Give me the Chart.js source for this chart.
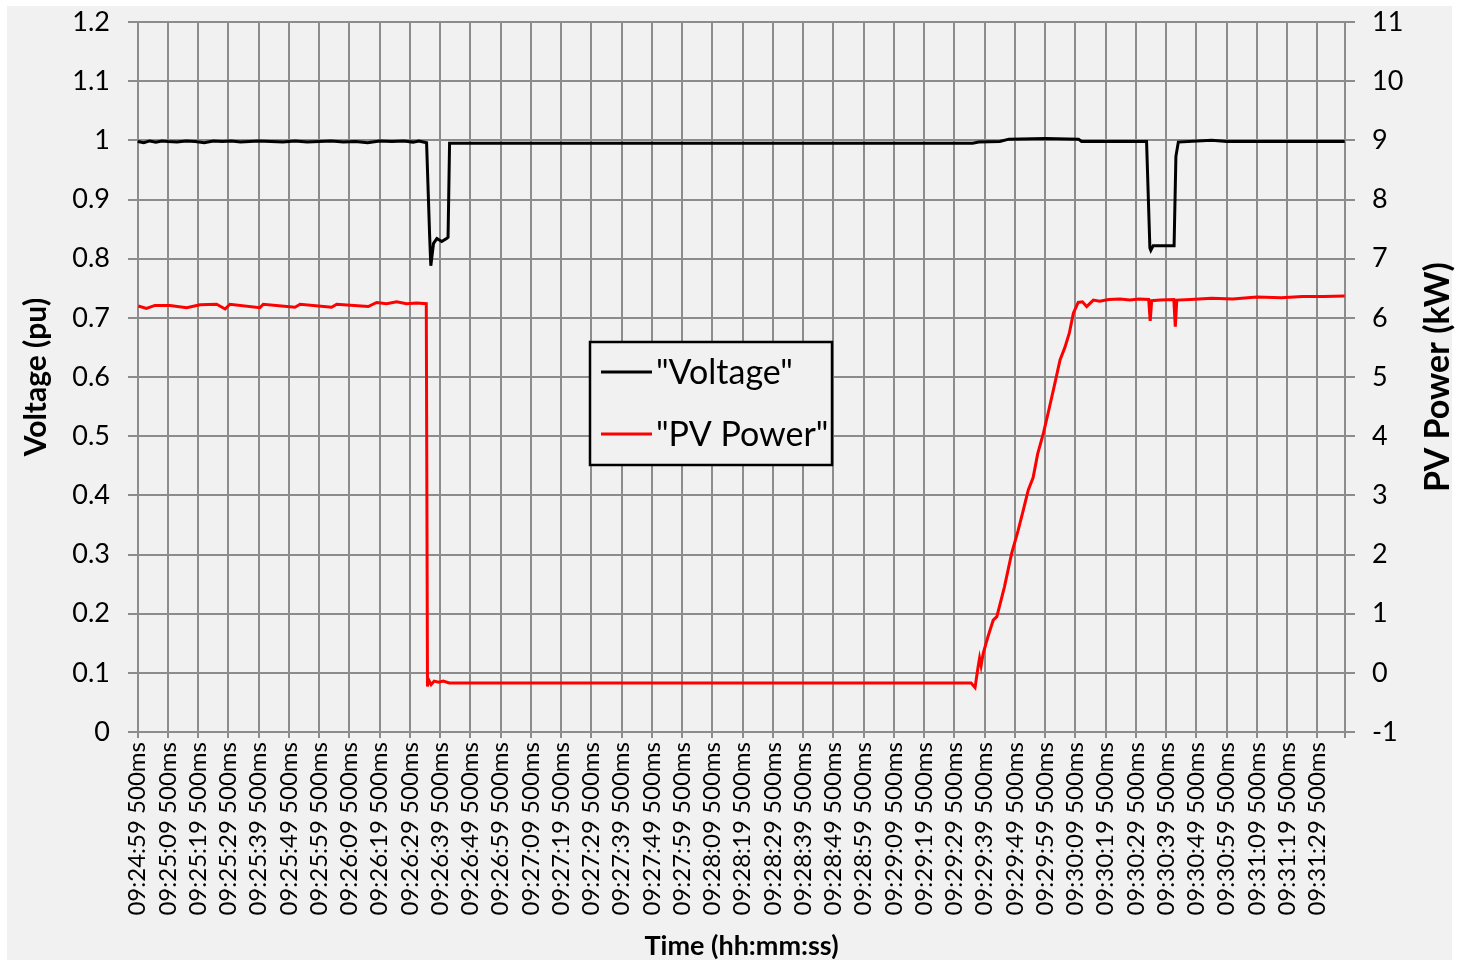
<!DOCTYPE html>
<html>
<head>
<meta charset="utf-8">
<script src="https://cdn.jsdelivr.net/npm/chart.js@4.4.1/dist/chart.umd.min.js"></script>
<style>
    html, body { margin: 0; padding: 0; background: #fff; }
    canvas { display: block; }
</style>
</head>
<body>
<canvas id="chartVoltage" width="1458" height="963"></canvas>
<script>
// tick labels (one every 10 s, starting 09:24:59.5)
const timeLabels = [
    '09:24:59 500ms', '09:25:09 500ms', '09:25:19 500ms', '09:25:29 500ms', '09:25:39 500ms',
    '09:25:49 500ms', '09:25:59 500ms', '09:26:09 500ms', '09:26:19 500ms', '09:26:29 500ms',
    '09:26:39 500ms', '09:26:49 500ms', '09:26:59 500ms', '09:27:09 500ms', '09:27:19 500ms',
    '09:27:29 500ms', '09:27:39 500ms', '09:27:49 500ms', '09:27:59 500ms', '09:28:09 500ms',
    '09:28:19 500ms', '09:28:29 500ms', '09:28:39 500ms', '09:28:49 500ms', '09:28:59 500ms',
    '09:29:09 500ms', '09:29:19 500ms', '09:29:29 500ms', '09:29:39 500ms', '09:29:49 500ms',
    '09:29:59 500ms', '09:30:09 500ms', '09:30:19 500ms', '09:30:29 500ms', '09:30:39 500ms',
    '09:30:49 500ms', '09:30:59 500ms', '09:31:09 500ms', '09:31:19 500ms', '09:31:29 500ms'
];

// seconds since 09:24:59.5
const voltageTime = [
    0, 2, 4, 6, 8, 10, 13, 16, 19, 22, 25, 28, 31, 34, 37, 40, 44, 48, 52, 56,
    60, 64, 68, 72, 76, 80, 84, 88, 91, 93, 95.5,
    96.5, 96.9, 97.8, 98.9, 100.5, 102.1, 102.6, 103.1,
    150, 200, 250, 276, 278, 285, 288, 300, 311, 312, 320, 330, 333.5,
    334.6, 334.9, 335.7, 342.6, 343.2, 344.0,
    355, 360, 380, 399
];
const voltageValues = [
    0.998, 0.996, 0.999, 0.997, 0.999, 0.998, 0.997, 0.999, 0.998, 0.996, 0.999, 0.998, 0.999, 0.997, 0.998, 0.999, 0.998, 0.997, 0.999, 0.997,
    0.998, 0.999, 0.997, 0.998, 0.996, 0.999, 0.998, 0.999, 0.997, 0.999, 0.996,
    0.84, 0.788, 0.826, 0.834, 0.829, 0.834, 0.836, 0.995,
    0.995, 0.995, 0.995, 0.995, 0.997, 0.998, 1.002, 1.003, 1.002, 0.998, 0.998, 0.998, 0.998,
    0.818, 0.814, 0.822, 0.822, 0.973, 0.997,
    1.0, 0.998, 0.998, 0.998
];

const pvTime = [
    0.2, 2.9, 5.7, 10.7, 16.2, 20.6, 26.1, 28.9, 30.5, 40.4, 41.5, 52, 53.7, 64.1, 65.8, 76.2, 79, 82.3, 85.6, 88.9, 92.2, 95.4,
    95.8, 96.2, 97.0, 98.0, 99.5, 101, 103, 106, 150, 200, 250, 275.5,
    276.3, 276.8, 277.8, 278.3, 278.8, 279.5, 281, 282.8, 284, 285, 286.5, 288.9, 291, 292.5, 294.4, 296, 297.5, 299.4,
    301, 303, 304.9, 306.5, 308, 309.3, 310.9, 312.3, 313.7, 315.9, 318, 321, 324.7, 328, 331, 334.2,
    334.7, 335.2, 338, 342.5, 343.0, 343.5, 348, 355, 362, 370, 378, 385, 392, 399
];
const pvValues = [
    6.2, 6.16, 6.21, 6.21, 6.17, 6.22, 6.23, 6.15, 6.23, 6.17, 6.23, 6.18, 6.23, 6.18, 6.23, 6.19, 6.26, 6.24, 6.27, 6.24, 6.25, 6.24,
    -0.23, -0.12, -0.2, -0.14, -0.16, -0.14, -0.17, -0.17, -0.17, -0.17, -0.17, -0.17,
    -0.22, -0.25, 0.1, 0.25, 0.12, 0.33, 0.6, 0.89, 0.95, 1.15, 1.45, 2.02, 2.4, 2.7, 3.09, 3.3, 3.7, 4.05,
    4.4, 4.85, 5.29, 5.5, 5.75, 6.08, 6.26, 6.27, 6.19, 6.30, 6.28, 6.31, 6.32, 6.30, 6.32, 6.31,
    5.95, 6.29, 6.30, 6.31, 5.85, 6.30, 6.31, 6.33, 6.32, 6.35, 6.34, 6.36, 6.36, 6.37
];

const BG = '#f1f1f1';
const GRID = '#8c8c8c';
const FONT = 'Lato';

document.addEventListener("DOMContentLoaded", () => {
    renderChart();
});

const backgroundPlugin = {
    id: 'fondo',
    beforeDraw(chart) {
        const ctx = chart.ctx;
        ctx.save();
        ctx.fillStyle = '#ffffff';
        ctx.fillRect(0, 0, chart.width, chart.height);
        ctx.fillStyle = BG;
        ctx.fillRect(7, 6, chart.width - 13, chart.height - 9);
        ctx.restore();
    }
};

// boxed legend in the middle of the plot, and right axis title read bottom-to-top
const overlayPlugin = {
    id: 'overlay',
    afterDraw(chart) {
        const ctx = chart.ctx;
        ctx.save();

        const box = { x: 590, y: 342, w: 242, h: 123 };
        ctx.fillStyle = BG;
        ctx.fillRect(box.x, box.y, box.w, box.h);
        ctx.strokeStyle = '#000';
        ctx.lineWidth = 2.5;
        ctx.strokeRect(box.x, box.y, box.w, box.h);

        ctx.font = `34px ${FONT}`;
        ctx.textBaseline = 'middle';
        ctx.textAlign = 'left';
        chart.data.datasets.forEach((ds, i) => {
            const y = box.y + 30 + i * 62;
            ctx.strokeStyle = ds.borderColor;
            ctx.lineWidth = 3;
            ctx.beginPath();
            ctx.moveTo(box.x + 11, y);
            ctx.lineTo(box.x + 62, y);
            ctx.stroke();
            ctx.fillStyle = '#000';
            ctx.fillText(ds.label, box.x + 66, y + 1);
        });

        ctx.translate(1438, 377);
        ctx.rotate(-Math.PI / 2);
        ctx.font = `bold 34px ${FONT}`;
        ctx.textAlign = 'center';
        ctx.fillText('PV Power (kW)', 0, 0);
        ctx.restore();
    }
};

function noPadding(scale) {
    scale.paddingTop = 0;
    scale.paddingBottom = 0;
    scale.paddingLeft = 0;
    scale.paddingRight = 0;
}

function renderChart() {
    const ctx = document.getElementById('chartVoltage').getContext('2d');

    new Chart(ctx, {
        type: 'line',
        data: {
            datasets: [{
                label: '"Voltage"',
                data: voltageTime.map((t, i) => ({ x: t, y: voltageValues[i] })),
                borderColor: '#000000',
                borderWidth: 3,
                pointRadius: 0,
                tension: 0,
                yAxisID: 'y'
            }, {
                label: '"PV Power"',
                data: pvTime.map((t, i) => ({ x: t, y: pvValues[i] })),
                borderColor: '#ff0000',
                borderWidth: 3,
                pointRadius: 0,
                tension: 0,
                yAxisID: 'y2'
            }]
        },
        options: {
            responsive: false,
            animation: false,
            devicePixelRatio: 1,
            layout: { padding: { top: 22, left: 0, right: 0, bottom: 0 } },
            plugins: {
                legend: { display: false },
                tooltip: { enabled: false }
            },
            scales: {
                x: {
                    type: 'linear',
                    min: -3.2,
                    max: 402.4,
                    afterFit: (scale) => { scale.height = 231; noPadding(scale); },
                    afterBuildTicks: (scale) => {
                        scale.ticks = timeLabels.map((_, i) => ({ value: i * 10 })).concat([{ value: 399 }]);
                    },
                    ticks: {
                        autoSkip: false,
                        minRotation: 90,
                        maxRotation: 90,
                        padding: 4,
                        color: '#000',
                        font: { family: FONT, size: 24 },
                        callback: (value, index) => timeLabels[index] || ''
                    },
                    grid: { color: GRID, lineWidth: 2, tickLength: 6, drawTicks: true },
                    border: { display: false },
                    title: {
                        display: true,
                        text: 'Time (hh:mm:ss)',
                        color: '#000',
                        font: { family: FONT, size: 27, weight: 'bold' },
                        padding: { top: 1, bottom: 1 }
                    }
                },
                y: {
                    position: 'left',
                    min: 0,
                    max: 1.2,
                    afterFit: (scale) => { scale.width = 128; noPadding(scale); },
                    ticks: {
                        stepSize: 0.1,
                        padding: 18,
                        color: '#000',
                        font: { family: FONT, size: 27 },
                        callback: (value) => String(+value.toFixed(1))
                    },
                    grid: { color: GRID, lineWidth: 2, drawTicks: false },
                    border: { display: false },
                    title: {
                        display: true,
                        text: 'Voltage (pu)',
                        color: '#000',
                        font: { family: FONT, size: 30, weight: 'bold' },
                        padding: { top: 18, bottom: 18 }
                    }
                },
                y2: {
                    position: 'right',
                    min: -1,
                    max: 11,
                    afterFit: (scale) => { scale.width = 103; noPadding(scale); },
                    ticks: {
                        stepSize: 1,
                        padding: 17,
                        color: '#000',
                        font: { family: FONT, size: 27 }
                    },
                    grid: { display: false, drawTicks: false },
                    border: { display: false }
                }
            }
        },
        plugins: [backgroundPlugin, overlayPlugin]
    });
}
</script>
</body>
</html>
